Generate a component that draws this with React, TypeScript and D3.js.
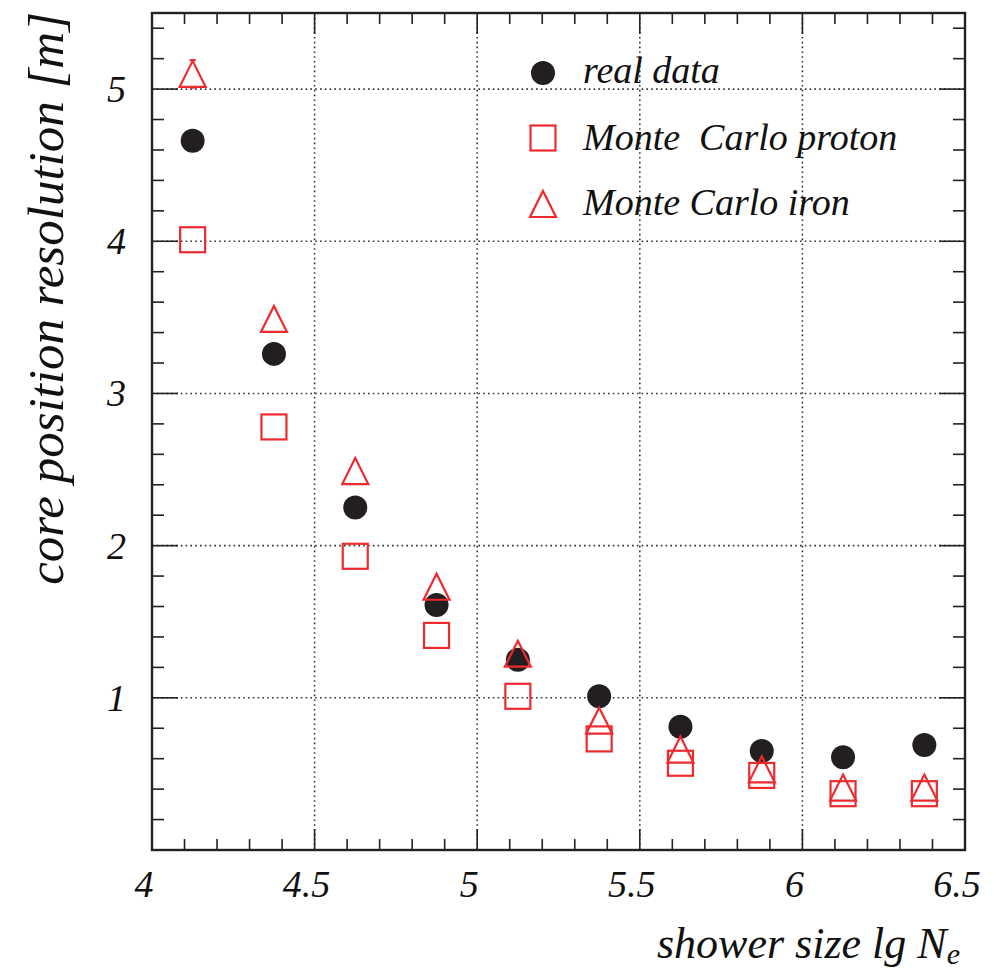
import React from "react";
import * as d3 from "d3";

// shower size bins (lg Ne)
const lgNe = [4.125, 4.375, 4.625, 4.875, 5.125, 5.375, 5.625, 5.875, 6.125, 6.375];
// core position resolution [m]
const realData = [4.66, 3.26, 2.25, 1.61, 1.25, 1.01, 0.81, 0.65, 0.61, 0.69];
const mcProton = [4.01, 2.78, 1.93, 1.41, 1.01, 0.73, 0.57, 0.49, 0.37, 0.37];
const mcIron = [5.1, 3.49, 2.49, 1.73, 1.29, 0.85, 0.66, 0.53, 0.41, 0.41];
const mcIronErr = [0.09, 0, 0, 0, 0, 0, 0, 0, 0, 0];

const xTickLabels = [4, 4.5, 5, 5.5, 6, 6.5];
const yTickLabels = [1, 2, 3, 4, 5];

const W = 1001;
const H = 970;
const L = 152, R = 965, T = 13, B = 850;
const RED = "#ee2a2f";
const FONT = "'Liberation Serif', 'Times New Roman', serif";

export default function App() {
  const x = d3.scaleLinear().domain([4, 6.5]).range([L, R]);
  const y = d3.scaleLinear().domain([0, 5.5]).range([B, T]);

  const xMinor = d3.range(4, 6.5001, 0.1).map((v) => +v.toFixed(2));
  const yMinor = d3.range(0, 5.5001, 0.2).map((v) => +v.toFixed(2));
  const isMajorX = (v: number) => Math.abs(v * 2 - Math.round(v * 2)) < 1e-6;
  const isMajorY = (v: number) => Math.abs(v - Math.round(v)) < 1e-6;

  const tri = (cx: number, cy: number, s: number) => {
    const h = s;
    return `M${cx},${cy - h / 2} L${cx + s / 2},${cy + h / 2} L${cx - s / 2},${cy + h / 2} Z`;
  };
  const sq = 25;
  const triS = 26;

  return (
    <svg
      width={W}
      height={H}
      style={{ position: "absolute", left: 0, top: 0, background: "#fff" }}
      fontFamily={FONT}
    >
      {/* grid */}
      <g stroke="#333" strokeWidth={1.6} strokeDasharray="1.6 3.2">
        {xTickLabels.slice(1, -1).map((v) => (
          <line key={"gx" + v} x1={x(v)} x2={x(v)} y1={T} y2={B} />
        ))}
        {yTickLabels.map((v) => (
          <line key={"gy" + v} x1={L} x2={R} y1={y(v)} y2={y(v)} />
        ))}
      </g>

      {/* ticks */}
      <g stroke="#222" strokeWidth={1.6}>
        {xMinor.map((v) => {
          const len = isMajorX(v) ? 21 : 11;
          return (
            <g key={"tx" + v}>
              <line x1={x(v)} x2={x(v)} y1={B} y2={B - len} />
              <line x1={x(v)} x2={x(v)} y1={T} y2={T + len} />
            </g>
          );
        })}
        {yMinor.map((v) => {
          const len = isMajorY(v) ? 26 : 12;
          return (
            <g key={"ty" + v}>
              <line x1={L} x2={L + len} y1={y(v)} y2={y(v)} />
              <line x1={R} x2={R - len} y1={y(v)} y2={y(v)} />
            </g>
          );
        })}
      </g>

      {/* frame */}
      <rect x={L} y={T} width={R - L} height={B - T} fill="none" stroke="#222" strokeWidth={2.4} />

      {/* tick labels */}
      <g fontStyle="italic" fontSize={38} fill="#111">
        {xTickLabels.map((v) => (
          <text key={"lx" + v} x={x(v) - 8} y={897} textAnchor="middle">
            {String(v)}
          </text>
        ))}
        {yTickLabels.map((v) => (
          <text key={"ly" + v} x={126} y={y(v) + 13} textAnchor="end">
            {String(v)}
          </text>
        ))}
      </g>

      {/* axis titles */}
      <text
        fontStyle="italic"
        fontSize={51}
        fill="#111"
        textAnchor="end"
        transform={`translate(63,12) rotate(-90)`}
      >
        core position resolution [m]
      </text>
      <text fontStyle="italic" fontSize={44} fill="#111" x={960} y={958} textAnchor="end">
        shower size lg N<tspan fontSize={30} dy={6}>e</tspan>
      </text>

      {/* real data */}
      <g fill="#231f20">
        {lgNe.map((v, i) => (
          <circle key={"rd" + i} cx={x(v)} cy={y(realData[i])} r={12} />
        ))}
      </g>

      {/* Monte Carlo proton */}
      <g fill="none" stroke={RED} strokeWidth={2.2}>
        {lgNe.map((v, i) => (
          <rect
            key={"mp" + i}
            x={x(v) - sq / 2}
            y={y(mcProton[i]) - sq / 2}
            width={sq}
            height={sq}
          />
        ))}
      </g>

      {/* Monte Carlo iron */}
      <g fill="none" stroke={RED} strokeWidth={2.2}>
        {lgNe.map((v, i) => {
          const cx = x(v);
          const cy = y(mcIron[i]);
          const e = mcIronErr[i];
          return (
            <g key={"mi" + i}>
              <path d={tri(cx, cy, triS)} />
              {e > 0 && (
                <g>
                  <line x1={cx} x2={cx} y1={y(mcIron[i] + e)} y2={cy - triS / 2} />
                  <line x1={cx - 3} x2={cx + 3} y1={y(mcIron[i] + e)} y2={y(mcIron[i] + e)} />
                  <line x1={cx - 3} x2={cx + 3} y1={y(mcIron[i] - e)} y2={y(mcIron[i] - e)} />
                </g>
              )}
            </g>
          );
        })}
      </g>

      {/* legend */}
      <g fontStyle="italic" fontSize={38} fill="#111">
        <circle cx={543} cy={73} r={12} fill="#231f20" />
        <text x={583} y={83}>real data</text>
        <rect x={543 - sq / 2} y={138 - sq / 2} width={sq} height={sq} fill="none" stroke={RED} strokeWidth={2.2} />
        <text x={583} y={150} style={{ whiteSpace: "pre" }}>{"Monte  Carlo proton"}</text>
        <path d={tri(543, 204, triS)} fill="none" stroke={RED} strokeWidth={2.2} />
        <text x={583} y={215}>Monte Carlo iron</text>
      </g>
    </svg>
  );
}
